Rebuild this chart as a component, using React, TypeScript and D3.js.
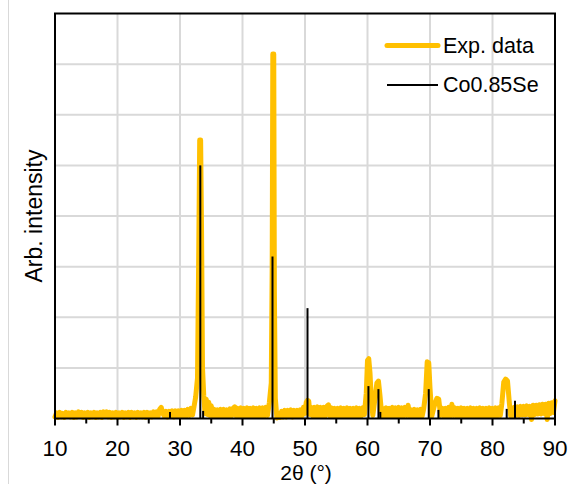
import React from 'react';
import * as d3 from 'd3';

// measured XRD pattern, [2θ, intensity] (noisy background read as low/high swings)
const expData: [number, number][] = [
  [10.0, .03], [10.25, .11], [10.5, .02], [10.75, .12], [11.0, .03], [11.25, .10], [11.5, .02], [11.75, .12],
  [12.0, .04], [12.25, .11], [12.5, .03], [12.75, .12], [13.0, .02], [13.25, .11], [13.5, .03], [13.75, .13],
  [14.0, .04], [14.25, .12], [14.5, .02], [14.75, .11], [15.0, .03], [15.25, .12], [15.5, .02], [15.75, .11],
  [16.0, .03], [16.25, .12], [16.5, .02], [16.75, .11], [17.0, .03], [17.25, .12], [17.5, .02], [17.75, .13],
  [18.0, .04], [18.25, .13], [18.5, .03], [18.75, .12], [19.0, .02], [19.25, .11], [19.5, .03], [19.75, .12],
  [20.0, .02], [20.25, .11], [20.5, .03], [20.75, .12], [21.0, .02], [21.25, .11], [21.5, .03], [21.75, .12],
  [22.0, .02], [22.25, .12], [22.5, .03], [22.75, .11], [23.0, .02], [23.25, .12], [23.5, .03], [23.75, .11],
  [24.0, .03], [24.25, .12], [24.5, .02], [24.75, .12], [25.0, .03], [25.25, .11], [25.5, .03], [25.75, .13],
  [26.0, .04], [26.25, .13], [26.5, .04], [26.75, .18], [27.0, .22], [27.25, .10], [27.5, .04], [27.75, .14],
  [28.0, .03], [28.25, .14], [28.5, .04], [28.75, .15], [29.0, .03], [29.25, .15], [29.5, .04], [29.75, .15],
  [30.0, .04], [30.25, .16], [30.5, .05], [30.75, .16], [31.0, .05], [31.25, .18], [31.5, .06], [31.75, .20],
  [32.0, .07], [32.25, .24], [32.5, .42], [32.8, .8], [33.0, 3.3], [33.15, 5.5], [33.3, 5.5], [33.45, 3.7],
  [33.6, 1.0], [33.8, .45], [34.0, .10], [34.2, .38], [34.4, .08], [34.6, .32], [34.8, .06],
  [35.0, .25], [35.25, .04], [35.5, .18], [35.75, .04], [36.0, .17], [36.25, .05], [36.5, .18], [36.75, .04],
  [37.0, .18], [37.25, .05], [37.5, .17], [37.75, .04], [38.0, .19], [38.25, .05], [38.5, .20], [38.75, .23],
  [39.0, .05], [39.25, .20], [39.5, .05], [39.75, .21], [40.0, .04], [40.25, .20], [40.5, .05], [40.75, .21],
  [41.0, .04], [41.25, .20], [41.5, .05], [41.75, .21], [42.0, .04], [42.25, .20], [42.5, .05], [42.75, .21],
  [43.0, .05], [43.25, .21], [43.5, .05], [43.75, .22], [44.0, .06], [44.3, .32], [44.6, .7], [44.75, 3.0],
  [44.85, 7.2], [45.0, 7.2], [45.1, 2.5], [45.25, .4], [45.5, .01], [45.75, .10],
  [46.0, .02], [46.25, .14], [46.5, .03], [46.75, .16], [47.0, .03], [47.25, .16], [47.5, .04], [47.75, .17],
  [48.0, .03], [48.25, .16], [48.5, .04], [48.75, .16], [49.0, .04], [49.25, .17], [49.5, .05], [49.75, .22],
  [50.0, .10], [50.2, .32], [50.4, .36], [50.6, .34], [50.8, .08],
  [51.0, .22], [51.25, .05], [51.5, .22], [51.75, .05], [52.0, .23], [52.25, .05], [52.5, .22], [52.75, .05],
  [53.0, .22], [53.25, .05], [53.5, .24], [53.75, .27], [54.0, .05], [54.25, .21], [54.5, .04], [54.75, .20],
  [55.0, .05], [55.25, .20], [55.5, .04], [55.75, .21], [56.0, .05], [56.25, .20], [56.5, .04], [56.75, .21],
  [57.0, .05], [57.25, .20], [57.5, .04], [57.75, .20], [58.0, .05], [58.25, .21], [58.5, .04], [58.75, .20],
  [59.0, .05], [59.25, .21], [59.5, .08], [59.8, .5], [60.0, 1.15], [60.2, 1.18], [60.4, .9], [60.6, .4],
  [60.85, .06], [61.1, .3], [61.3, .5], [61.5, .7], [61.75, .74], [62.0, .45], [62.2, .18], [62.4, .04],
  [62.5, .20], [62.75, .05], [63.0, .21], [63.25, .04], [63.5, .20], [63.75, .05], [64.0, .22], [64.25, .04],
  [64.5, .21], [64.75, .05], [65.0, .22], [65.25, .04], [65.5, .21], [65.75, .05], [66.0, .22], [66.25, .06],
  [66.5, .26], [66.75, .05], [67.0, .17], [67.25, .04], [67.5, .18], [67.75, .04], [68.0, .17], [68.25, .04],
  [68.5, .18], [68.75, .05], [69.0, .20], [69.3, .5], [69.55, 1.12], [69.8, 1.1], [70.0, .6], [70.3, .05],
  [70.55, .18], [70.8, .3], [71.1, .4], [71.4, .38], [71.7, .06],
  [72.0, .20], [72.25, .04], [72.5, .20], [72.75, .05], [73.0, .22], [73.25, .05], [73.5, .28], [73.75, .06],
  [74.0, .21], [74.25, .05], [74.5, .20], [74.75, .04], [75.0, .21], [75.25, .05], [75.5, .20], [75.75, .04],
  [76.0, .20], [76.25, .05], [76.5, .21], [76.75, .04], [77.0, .20], [77.25, .05], [77.5, .20], [77.75, .04],
  [78.0, .21], [78.25, .05], [78.5, .20], [78.75, .04], [79.0, .20], [79.25, .05], [79.5, .21], [79.75, .04],
  [80.0, .20], [80.25, .05], [80.5, .21], [80.75, .05], [81.0, .21], [81.25, .06], [81.5, .30], [81.8, .72],
  [82.1, .78], [82.4, .74], [82.7, .3], [82.9, .05],
  [83.0, .21], [83.25, .05], [83.5, .22], [83.75, .06], [84.0, .23], [84.25, .06], [84.5, .24], [84.75, .07],
  [85.0, .24], [85.25, .07], [85.5, .25], [85.75, .08], [86.0, .24], [86.25, -.02], [86.5, .26], [86.75, .08],
  [87.0, .26], [87.25, .09], [87.5, .27], [87.75, .09], [88.0, .28], [88.25, .10], [88.5, .28], [88.75, -.02],
  [89.0, .30], [89.25, .10], [89.5, .31], [89.75, .12], [90.0, .35],
];

// Co0.85Se reference reflections
const refAngles = [28.4, 33.25, 33.7, 44.8, 50.4, 60.15, 61.75, 62.05, 69.8, 71.35, 82.27, 83.6];
const refIntensity = [0.13, 5.0, 0.15, 3.2, 2.18, 0.64, 0.58, 0.13, 0.58, 0.17, 0.19, 0.35];

const xTicks = [10, 20, 30, 40, 50, 60, 70, 80, 90];
const xMinorTicks = [15, 25, 35, 45, 55, 65, 75, 85];
const yGrid = [1, 2, 3, 4, 5, 6, 7];

const legendItems = ['Exp. data', 'Co0.85Se'];

const W = 572;
const H = 484;
const margin = { left: 55, right: 17, top: 13.5, bottom: 65.5 };
const gold = '#ffc000';
const font = '"Liberation Sans", Arial, sans-serif';

export default function App() {
  const x = d3.scaleLinear().domain([10, 90]).range([margin.left, W - margin.right]);
  const y = d3.scaleLinear().domain([0, 8]).range([H - margin.bottom, margin.top]);

  const expLine = d3.line<[number, number]>()
    .x(d => x(d[0]))
    .y(d => y(d[1]));

  const [x0, x1] = x.range();
  const [y0, y1] = y.range();

  return (
    <svg width={W} height={H} style={{ position: 'absolute', left: 0, top: 0, background: '#fff' }}>
      <line x1={8.5} x2={8.5} y1={0} y2={H} stroke="#d9d9d9" strokeWidth={1} />

      {/* grid */}
      {yGrid.map(v => (
        <line key={'gy' + v} x1={x0} x2={x1} y1={y(v)} y2={y(v)} stroke="#d9d9d9" strokeWidth={2} />
      ))}
      {xTicks.slice(1, -1).map(v => (
        <line key={'gx' + v} x1={x(v)} x2={x(v)} y1={y0} y2={y1} stroke="#d9d9d9" strokeWidth={2} />
      ))}

      <path d={expLine(expData) || ''} fill="none" stroke={gold} strokeWidth={5}
        strokeLinejoin="round" strokeLinecap="round" />

      {refAngles.map((a, i) => (
        <line key={'r' + i} x1={x(a)} x2={x(a)} y1={y(0)} y2={y(refIntensity[i])}
          stroke="#000" strokeWidth={2} />
      ))}

      <rect x={x0} y={y1} width={x1 - x0} height={y0 - y1} fill="none" stroke="#000" strokeWidth={2} />

      {/* x ticks */}
      {xTicks.map(v => (
        <line key={'t' + v} x1={x(v)} x2={x(v)} y1={y0} y2={y0 + 7} stroke="#000" strokeWidth={2} />
      ))}
      {xMinorTicks.map(v => (
        <line key={'m' + v} x1={x(v)} x2={x(v)} y1={y0} y2={y0 + 5} stroke="#000" strokeWidth={2} />
      ))}
      {xTicks.map(v => (
        <text key={'l' + v} x={x(v)} y={455.5} textAnchor="middle" fontFamily={font} fontSize={22.5}
          fill="#000">{v}</text>
      ))}

      <text x={(x0 + x1) / 2 + 1} y={479.5} textAnchor="middle" fontFamily={font} fontSize={21} fill="#000">2θ (°)</text>
      <text transform={`translate(41.5,${(y0 + y1) / 2}) rotate(-90)`} textAnchor="middle"
        fontFamily={font} fontSize={23} fill="#000">Arb. intensity</text>

      {/* legend */}
      <line x1={387} x2={438} y1={45.5} y2={45.5} stroke={gold} strokeWidth={5} strokeLinecap="round" />
      <text x={443} y={53} fontFamily={font} fontSize={21.5} fill="#000">{legendItems[0]}</text>
      <line x1={387} x2={438} y1={85} y2={85} stroke="#000" strokeWidth={2} />
      <text x={443} y={92} fontFamily={font} fontSize={21.5} fill="#000">{legendItems[1]}</text>
    </svg>
  );
}
